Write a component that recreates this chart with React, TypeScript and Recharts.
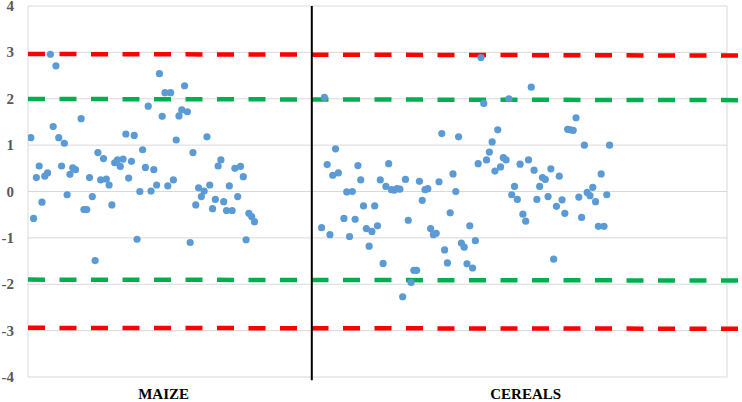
import {
  ScatterChart,
  Scatter,
  XAxis,
  YAxis,
  CartesianGrid,
  ReferenceLine,
  ReferenceDot,
} from "recharts";

// standardised residuals by observation index (maize 1-81, cereals 105-208)
const maizeStart = 1;
const maizeValues: (number | null)[] = [
  1.16, -0.58, 0.3, 0.55, -0.23, 0.33, 0.4, 2.96, 1.4, 2.71,
  1.16, 0.55, 1.04, -0.07, 0.37, 0.51, 0.47, null, 1.57, -0.39,
  -0.39, 0.3, -0.11, -1.49, 0.84, 0.25, 0.71, 0.27, 0.14, -0.29,
  0.62, 0.68, 0.54, 0.7, 1.24, 0.29, 0.65, 1.21, -1.03, 0.0,
  0.9, 0.52, 1.84, 0.01, 0.47, 0.14, 2.54, 1.62, 2.13, 0.12,
  2.13, 0.25, 1.11, 1.63, 1.76, 2.28, 1.72, -1.1, 0.84, -0.29,
  0.08, -0.11, 0.01, 1.18, 0.14, -0.37, -0.17, 0.55, 0.68, -0.22,
  -0.41, 0.12, -0.41, 0.5, -0.11, 0.54, 0.32, -1.04, -0.47, -0.54,
  -0.65,
];

const cerealStart = 105;
const cerealValues: (number | null)[] = [
  -0.78, 2.03, 0.58, -0.93, 0.35, 0.92, 0.4, null, -0.58, -0.01,
  -0.97, 0.0, -0.6, 0.56, 0.25, -0.31, -0.8, -1.18, -0.86, -0.31,
  -0.74, 0.25, -1.55, 0.11, 0.6, 0.04, 0.03, 0.06, 0.05, -2.27,
  0.26, -0.62, -1.96, -1.7, -1.7, 0.22, -0.19, 0.04, 0.06, -0.8,
  -0.93, -0.9, 0.21, 1.25, -1.26, -1.54, -0.46, 0.38, 0.0, 1.18,
  -1.11, -1.2, -1.56, -0.74, -1.65, -1.06, 0.6, 2.89, 1.9, 0.68,
  0.85, 1.07, 0.44, 1.33, 0.53, 0.73, 0.68, 2.0, -0.07, 0.11,
  -0.17, 0.59, -0.49, -0.64, 0.68, 2.25, 0.46, -0.17, 0.11, 0.3,
  0.26, -0.11, 0.49, -1.46, -0.32, 0.33, -0.18, -0.47, 1.34, 1.33,
  1.32, 1.59, -0.12, -0.56, 1.0, -0.02, -0.09, 0.09, -0.22, -0.75,
  0.38, -0.75, -0.07, 1.0,
];

const yTicks = [-4, -3, -2, -1, 0, 1, 2, 3, 4];
const xGridTicks = [0, 50, 100, 150, 200, 250];

const groupLabels = ["MAIZE", "CEREALS"];
const groupCenters = [48.5, 178];
const groupDivider = 101.5;

// control limits, slightly tilted as in the source
const limitLines = [
  { from: 2.965, to: 2.93, color: "#FF0000" },
  { from: 1.995, to: 1.97, color: "#00B050" },
  { from: -1.9, to: -1.92, color: "#00B050" },
  { from: -2.94, to: -2.96, color: "#FF0000" },
];

const toPoints = (values: (number | null)[], start: number) =>
  values
    .map((v, i) => ({ x: start + i, y: v }))
    .filter((p): p is { x: number; y: number } => p.y != null);

const points = [
  ...toPoints(maizeValues, maizeStart),
  ...toPoints(cerealValues, cerealStart),
];

const serif = "Liberation Serif";

const Dot = (props: any) => (
  <circle cx={props.cx} cy={props.cy} r={3.6} fill="#5B9BD5" />
);

const YTick = ({ x, y, payload }: any) => (
  <text
    x={x}
    y={y}
    dy={5}
    textAnchor="end"
    fill="#595959"
    fontSize={15}
    fontWeight="bold"
    fontFamily={serif}
  >
    {payload.value}
  </text>
);

export default function App() {
  return (
    <div
      style={{
        position: "absolute",
        left: 0,
        top: 0,
        width: 742,
        height: 402,
        background: "#fff",
        fontFamily: serif,
        fontWeight: "bold",
      }}
    >
      <ScatterChart
        width={742}
        height={402}
        margin={{ top: 6, right: 15, bottom: 0, left: 0 }}
        style={{ fontFamily: serif }}
      >
        <CartesianGrid stroke="#D9D9D9" strokeWidth={1} />
        <XAxis
          type="number"
          dataKey="x"
          domain={[0, 250]}
          ticks={xGridTicks}
          allowDataOverflow
          tick={false}
          tickLine={false}
          axisLine={false}
          height={25}
        />
        <YAxis
          type="number"
          dataKey="y"
          domain={[-4, 4]}
          ticks={yTicks}
          interval={0}
          tick={<YTick />}
          tickLine={false}
          axisLine={false}
          tickMargin={8}
          width={28}
        />
        <Scatter data={points} shape={Dot} isAnimationActive={false} />
        {limitLines.map((l, i) => (
          <ReferenceLine
            key={i}
            segment={[
              { x: 0, y: l.from },
              { x: 255, y: l.to },
            ]}
            stroke={l.color}
            strokeWidth={4.5}
            strokeDasharray="17 14.5"
            ifOverflow="visible"
          />
        ))}
        <ReferenceLine
          segment={[
            { x: groupDivider, y: 4 },
            { x: groupDivider, y: -4.07 },
          ]}
          stroke="#000"
          strokeWidth={2}
          ifOverflow="visible"
        />
        {groupLabels.map((name, i) => (
          <ReferenceDot
            key={name}
            x={groupCenters[i]}
            y={-4}
            r={0}
            fill="none"
            stroke="none"
            ifOverflow="visible"
            label={{
              value: name,
              position: "bottom",
              offset: 11,
              fill: "#000",
              fontSize: 15,
              fontWeight: "bold",
              fontFamily: serif,
            }}
          />
        ))}
      </ScatterChart>
    </div>
  );
}
